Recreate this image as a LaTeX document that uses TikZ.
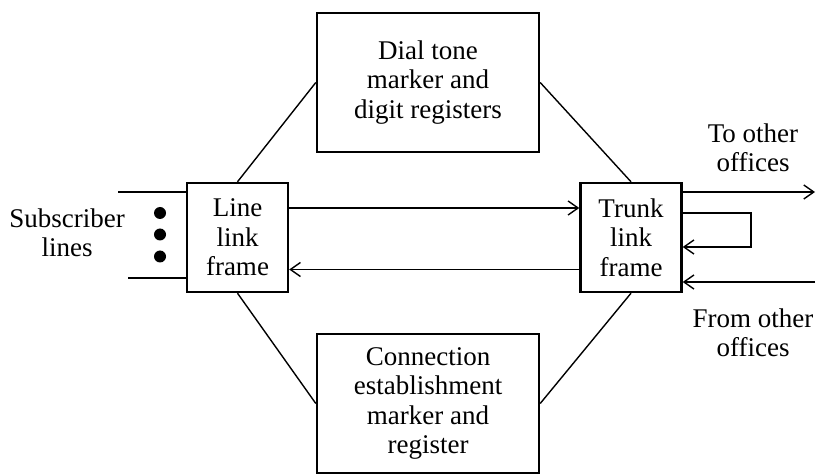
\documentclass[tikz,border=0pt]{standalone}
\usepackage{fontspec}
\setmainfont{Liberation Serif}
\usetikzlibrary{arrows.meta}
\tikzset{
    block/.style={rectangle, draw, line width=1.2pt, minimum width = 111pt,
                minimum height = 69.5pt, inner sep = 0, align=center},
    frame/.style={rectangle, draw, line width=1.2pt, minimum width = 50.5pt,
                minimum height = 54.5pt, inner sep = 0, align=center},
    label/.style={align=center, inner sep = 0},
    link/.style={line width=0.7pt},
    flow/.style={line width=0.7pt, -{Straight Barb[length=5pt,width=7pt]}},
}

\begin{document}
\begin{tikzpicture}[x=0.5pt, y=-0.5pt, font=\fontsize{13.5}{14.75}\selectfont]
        \useasboundingbox (0,0) rectangle (823,475);
        % Markers
        \node[block] (dialBox) at (428,82.5) {Dial tone\\marker and\\digit registers};
        \node[block] (connBox) at (428,403.5) {Connection\\establishment\\marker and\\register};
        %
        % Link frames
        \node[frame] (lineFrame) at (237.5,237.5) {Line\\link\\frame};
        \node[frame] (trunkFrame) at (631,237.5) {Trunk\\link\\frame};
        %
        \draw[link] (dialBox.west) -- (lineFrame.north);
        \draw[link] (dialBox.east) -- (trunkFrame.north);
        \draw[link] (connBox.west) -- (lineFrame.south);
        \draw[link] (connBox.east) -- (trunkFrame.south);
        %
        \draw[flow] ([yshift=14.75pt]lineFrame.east) -- ([yshift=14.75pt]trunkFrame.west);
        \draw[flow] ([yshift=-16pt]trunkFrame.west) -- ([yshift=-16pt]lineFrame.east);
        %
        % Subscriber side
        \coordinate (subTop) at (118,192);
        \coordinate (subBot) at (128,278);
        \draw[link] (subTop) -- (subTop -| lineFrame.west);
        \draw[link] (subBot) -- (subBot -| lineFrame.west);
        \foreach \y/\n in {213/1,234.5/2,256.5/3}
            \fill (160,\y) circle (3pt) coordinate (dot\n);
        \node[label] (subLabel) at (67,233) {Subscriber\\lines};
        %
        % Trunk side
        \coordinate (toOut) at (815,192);
        \coordinate (fromIn) at (815,282);
        \coordinate (loopTop) at (751,213);
        \coordinate (loopBot) at (751,247);
        \draw[flow] (toOut -| trunkFrame.east) -- (toOut);
        \draw[flow] (loopTop -| trunkFrame.east) -- (loopTop) -- (loopBot) -- (loopBot -| trunkFrame.east);
        \draw[flow] (fromIn) -- (fromIn -| trunkFrame.east);
        \node[label] (toLabel) at (753,148) {To other\\offices};
        \node[label] (fromLabel) at (753,333) {From other\\offices};
\end{tikzpicture}
\end{document}
